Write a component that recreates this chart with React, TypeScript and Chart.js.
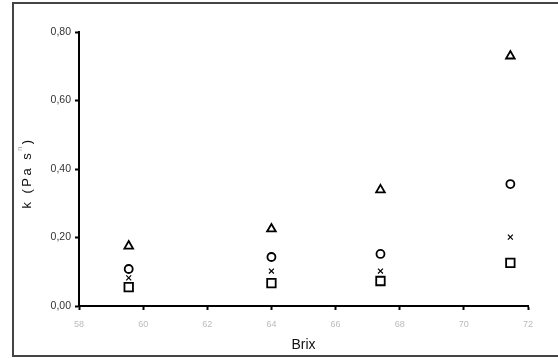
import React, { useEffect, useRef } from "react";
import { Chart, registerables } from "chart.js";

Chart.register(...registerables);

const brix = [59.55, 64.0, 67.4, 71.45];
const kTriangle = [0.175, 0.225, 0.339, 0.73];
const kCircle = [0.108, 0.143, 0.152, 0.356];
const kCross = [0.082, 0.102, 0.102, 0.201];
const kSquare = [0.055, 0.067, 0.073, 0.126];
const xTicks = [58, 60, 62, 64, 66, 68, 70, 72];
const yTicks = [0, 0.2, 0.4, 0.6, 0.8];
const xTitle = "Brix";
const yTitleMain = "k (Pa s";
const yTitleSup = "n";
const yTitleEnd = ")";

const pts = (ys: number[]) => brix.map((x, i) => ({ x, y: ys[i] }));

const FONT = "'Liberation Sans', Arial, sans-serif";

const framePlugin = {
  id: "framePlugin",
  beforeDraw(chart: any) {
    const ctx = chart.ctx;
    ctx.save();
    ctx.fillStyle = "#fff";
    ctx.fillRect(0, 0, chart.width, chart.height);
    ctx.strokeStyle = "#444";
    ctx.lineWidth = 2;
    ctx.beginPath();
    ctx.moveTo(chart.width + 5, 3);
    ctx.lineTo(13, 3);
    ctx.lineTo(13, 356);
    ctx.lineTo(chart.width + 5, 356);
    ctx.stroke();
    ctx.restore();
  },
};

const yTitlePlugin = {
  id: "yTitlePlugin",
  afterDraw(chart: any) {
    const ctx = chart.ctx;
    ctx.save();
    ctx.translate(27, 173);
    ctx.rotate(-Math.PI / 2);
    ctx.fillStyle = "#111";
    ctx.textBaseline = "middle";
    (ctx as any).letterSpacing = "2.5px";
    ctx.font = "13px " + FONT;
    const w1 = ctx.measureText(yTitleMain).width;
    ctx.font = "7px " + FONT;
    const w2 = ctx.measureText(yTitleSup).width;
    ctx.font = "13px " + FONT;
    const w3 = ctx.measureText(yTitleEnd).width;
    let x = -(w1 + w2 + w3) / 2;
    ctx.textAlign = "left";
    ctx.fillText(yTitleMain, x, 0);
    x += w1;
    ctx.font = "7px " + FONT;
    ctx.fillStyle = "#999";
    ctx.fillText(yTitleSup, x, -7);
    x += w2;
    ctx.fillStyle = "#111";
    ctx.font = "13px " + FONT;
    ctx.fillText(yTitleEnd, x, 0);
    ctx.restore();
  },
};

export default function App() {
  const ref = useRef<HTMLCanvasElement>(null);
  useEffect(() => {
    if (!ref.current) return;
    const base = {
      showLine: false,
      borderColor: "#000",
      backgroundColor: "rgba(255,255,255,0)",
      borderWidth: 1.8,
    };
    const chart = new Chart(ref.current, {
      type: "scatter",
      data: {
        datasets: [
          { ...base, label: "triangle", data: pts(kTriangle), pointStyle: "triangle", pointRadius: 5 },
          { ...base, label: "circle", data: pts(kCircle), pointStyle: "circle", pointRadius: 4 },
          { ...base, label: "cross", data: pts(kCross), pointStyle: "crossRot", pointRadius: 3.5, borderWidth: 1.2 },
          { ...base, label: "square", data: pts(kSquare), pointStyle: "rect", pointRadius: 6 },
        ],
      },
      options: {
        animation: false,
        responsive: false,
        maintainAspectRatio: false,
        layout: { padding: { left: 0, top: 32, right: 30, bottom: 0 } },
        plugins: { legend: { display: false }, tooltip: { enabled: false } },
        scales: {
          x: {
            type: "linear",
            min: 58,
            max: 72,
            afterBuildTicks: (s: any) => {
              s.ticks = xTicks.map((v) => ({ value: v }));
            },
            afterFit: (s: any) => {
              s.height = 52;
            },
            grid: {
              display: true,
              drawOnChartArea: false,
              drawTicks: true,
              tickLength: 4,
              tickWidth: 2,
              color: "#000",
            },
            border: { display: true, color: "#000", width: 2 },
            ticks: {
              color: "#bbb",
              padding: 9,
              font: { size: 9, family: FONT },
              maxRotation: 0,
              callback: (v: any) => String(v),
            },
            title: {
              display: true,
              text: xTitle,
              color: "#111",
              padding: { top: 1 },
              font: { size: 14, family: FONT },
            },
          },
          y: {
            type: "linear",
            min: 0,
            max: 0.8,
            afterBuildTicks: (s: any) => {
              s.ticks = yTicks.map((v) => ({ value: v }));
            },
            afterFit: (s: any) => {
              s.width = 79;
            },
            grid: {
              display: true,
              drawOnChartArea: false,
              drawTicks: true,
              tickLength: 4,
              tickWidth: 2,
              color: "#000",
            },
            border: { display: true, color: "#000", width: 2 },
            ticks: {
              color: "#333",
              padding: 4,
              font: { size: 10.5, family: FONT },
              callback: (v: any) => Number(v).toFixed(2).replace(".", ","),
            },
          },
        },
      },
      plugins: [framePlugin, yTitlePlugin],
    } as any);
    return () => chart.destroy();
  }, []);

  return (
    <div style={{ position: "absolute", left: 0, top: 0, width: 558, height: 358, overflow: "hidden", background: "#fff" }}>
      <canvas ref={ref} width={558} height={358} style={{ position: "absolute", left: 0, top: 0 }} />
    </div>
  );
}
